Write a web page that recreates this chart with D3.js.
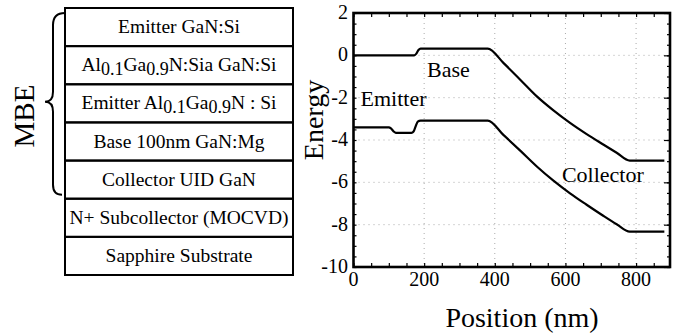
<!DOCTYPE html>
<html>
<head>
<meta charset="utf-8">
<script src="https://cdn.jsdelivr.net/npm/d3@7/dist/d3.min.js"></script>
<style>
  body { margin: 0; background: #fff; }
</style>
</head>
<body>
<div id="chart"></div>
<script>
var width = 678, height = 335;
var serif = "'Liberation Serif', 'Times New Roman', Times, 'DejaVu Serif', serif";

// Layer stack (top to bottom); _{..} marks a subscript
var layers = ["Emitter GaN:Si", "Al_{0.1}Ga_{0.9}N:Sia GaN:Si", "Emitter Al_{0.1}Ga_{0.9}N : Si",
	"Base 100nm GaN:Mg", "Collector UID GaN", "N+ Subcollector (MOCVD)", "Sapphire Substrate"];
var mbeLayers = 5;

// Band edges: position (nm), energy (eV)
var condPos = [0, 100, 172, 178, 184, 190, 380, 425, 472, 519, 566, 613, 660, 707, 745, 782, 880];
var condE   = [0, 0, 0, 0.08, 0.25, 0.32, 0.32, -0.37, -1.15, -1.94, -2.6, -3.19, -3.72, -4.21, -4.6, -4.97, -4.97];
var valPos  = [0, 100, 106, 114, 120, 164, 170, 176, 182, 190, 380, 425, 472, 519, 566, 613, 660, 707, 745, 782, 880];
var valE    = [-3.4, -3.4, -3.45, -3.6, -3.66, -3.66, -3.6, -3.35, -3.13, -3.08, -3.08, -3.77, -4.5, -5.25, -5.92, -6.52, -7.06, -7.58, -7.98, -8.33, -8.33];

var xTicks = [0, 200, 400, 600, 800];
var yTicks = [2, 0, -2, -4, -6, -8, -10];
var regionLabels = [{t: "Base", x: 208, y: -1.0}, {t: "Emitter", x: 20, y: -2.4}, {t: "Collector", x: 590, y: -6.0}];

var svg = d3.select("#chart").append("svg")
	.attr("width", width)
	.attr("height", height)
	.style("font-family", serif);

// ---------------- layer stack ----------------
var boxX0 = 65, boxX1 = 293;
var rowY = d3.scaleBand().domain(d3.range(layers.length)).range([8, 275]);

var gStack = svg.append("g");
gStack.selectAll(".layer").data(layers).enter()
	.append("rect")
	.attr("x", boxX0).attr("y", function(d, i) { return rowY(i); })
	.attr("width", boxX1 - boxX0).attr("height", rowY.bandwidth())
	.attr("fill", "none").attr("stroke", "#000").attr("stroke-width", 2);

layers.forEach(function(d, i) {
	var t = gStack.append("text")
		.attr("x", (boxX0 + boxX1) / 2)
		.attr("y", rowY(i) + rowY.bandwidth() / 2 + 6)
		.attr("text-anchor", "middle")
		.attr("font-family", serif)
		.attr("font-size", 19.5);
	var parts = d.split(/(_\{[^}]*\})/);
	var shifted = false;
	parts.forEach(function(p) {
		if (!p) return;
		if (p.indexOf("_{") === 0) {
			t.append("tspan").attr("dy", 4).attr("font-size", 18).text(p.slice(2, -1));
			shifted = true;
		} else {
			t.append("tspan").attr("dy", shifted ? -4 : 0).text(p);
			shifted = false;
		}
	});
});

// brace over the MBE layers
var bTop = 13, bBot = rowY(mbeLayers - 1) + rowY.bandwidth() - 4, bMid = (bTop + bBot) / 2 - 2;
gStack.append("path")
	.attr("d", "M65," + bTop + " Q53," + bTop + " 53," + (bTop + 12) +
		" L53," + (bMid - 10) + " Q53," + bMid + " 45," + bMid +
		" Q53," + bMid + " 53," + (bMid + 10) +
		" L53," + (bBot - 10) + " Q53," + bBot + " 62," + bBot)
	.attr("fill", "none").attr("stroke", "#000").attr("stroke-width", 2);

gStack.append("text")
	.attr("transform", "translate(34,116) rotate(-90)")
	.attr("text-anchor", "middle")
	.attr("font-family", serif)
	.attr("font-size", 29)
	.text("MBE");

// ---------------- band diagram ----------------
var x = d3.scaleLinear().domain([0, 896]).range([353.5, 670]);
var y = d3.scaleLinear().domain([-10, 2]).range([267, 13]);

var gPlot = svg.append("g");

// dotted grid
gPlot.selectAll(".gx").data(xTicks.slice(1)).enter().append("line")
	.attr("x1", function(d) { return x(d); }).attr("x2", function(d) { return x(d); })
	.attr("y1", y(2)).attr("y2", y(-10))
	.attr("stroke", "#aaa").attr("stroke-width", 1).attr("stroke-dasharray", "1,4");
gPlot.selectAll(".gy").data(yTicks.slice(1, -1)).enter().append("line")
	.attr("x1", x(0)).attr("x2", x(896))
	.attr("y1", function(d) { return y(d); }).attr("y2", function(d) { return y(d); })
	.attr("stroke", "#aaa").attr("stroke-width", 1).attr("stroke-dasharray", "1,4");

// axes with inward ticks
var xMinor = d3.range(0, 896, 50), yMinor = d3.range(-10, 2.01, 0.5);
gPlot.append("g").attr("transform", "translate(0," + y(-10) + ")")
	.call(d3.axisBottom(x).tickValues(xMinor).tickSize(-4).tickFormat(""));
gPlot.append("g").attr("transform", "translate(0," + y(2) + ")")
	.call(d3.axisTop(x).tickValues(xMinor).tickSize(-4).tickFormat(""));
gPlot.append("g").attr("transform", "translate(" + x(0) + ",0)")
	.call(d3.axisLeft(y).tickValues(yMinor).tickSize(-3).tickFormat(""));
gPlot.append("g").attr("transform", "translate(" + x(896) + ",0)")
	.call(d3.axisRight(y).tickValues(yMinor).tickSize(-3).tickFormat(""));
gPlot.append("g").attr("transform", "translate(" + x(896) + ",0)")
	.call(d3.axisRight(y).tickValues(yTicks).tickSize(-6).tickFormat(""));
gPlot.selectAll(".domain").remove();
gPlot.selectAll(".tick line").attr("stroke", "#000").attr("stroke-width", 1.2);

gPlot.append("rect")
	.attr("x", x(0)).attr("y", y(2))
	.attr("width", x(896) - x(0)).attr("height", y(-10) - y(2))
	.attr("fill", "none").attr("stroke", "#000").attr("stroke-width", 2.6);

// tick labels
gPlot.selectAll(".xl").data(xTicks).enter().append("text")
	.attr("x", function(d) { return x(d); }).attr("y", 286)
	.attr("text-anchor", "middle").attr("font-family", serif).attr("font-size", 20)
	.text(function(d) { return d; });
gPlot.selectAll(".yl").data(yTicks).enter().append("text")
	.attr("x", 348).attr("y", function(d) { return y(d) + 6; })
	.attr("text-anchor", "end").attr("font-family", serif).attr("font-size", 20)
	.text(function(d) { return d; });

// band lines
var line = d3.line()
	.x(function(d) { return x(d[0]); })
	.y(function(d) { return y(d[1]); })
	.curve(d3.curveMonotoneX);
gPlot.append("path").datum(d3.zip(condPos, condE))
	.attr("d", line).attr("fill", "none").attr("stroke", "#000").attr("stroke-width", 2.2);
gPlot.append("path").datum(d3.zip(valPos, valE))
	.attr("d", line).attr("fill", "none").attr("stroke", "#000").attr("stroke-width", 2.2);

gPlot.selectAll(".rl").data(regionLabels).enter().append("text")
	.attr("x", function(d) { return x(d.x); }).attr("y", function(d) { return y(d.y); })
	.attr("font-family", serif).attr("font-size", 22)
	.text(function(d) { return d.t; });

// axis titles
svg.append("text")
	.attr("x", 522).attr("y", 327)
	.attr("text-anchor", "middle").attr("font-family", serif).attr("font-size", 28)
	.text("Position (nm)");
svg.append("text")
	.attr("transform", "translate(323,120) rotate(-90)")
	.attr("text-anchor", "middle").attr("font-family", serif).attr("font-size", 28)
	.text("Energy");
</script>
</body>
</html>
